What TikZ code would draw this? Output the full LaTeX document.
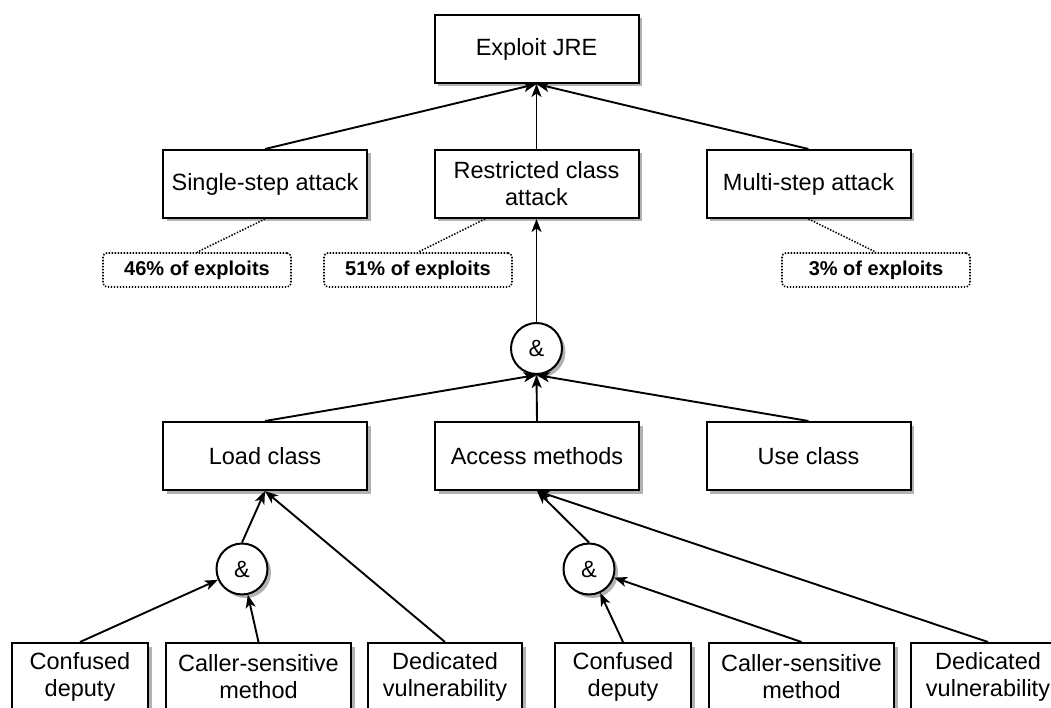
\documentclass[tikz,border=0pt]{standalone}
\usepackage{fontspec}
\setmainfont{Liberation Sans}
\usetikzlibrary{arrows.meta,shadows}
\begin{document}
\begin{tikzpicture}[x=1pt,y=-1pt,
  every node/.style={font=\fontsize{23.5}{27}\selectfont},
  shade box/.style={drop shadow={shadow xshift=3.5pt,shadow yshift=-3.5pt,fill=black!30,opacity=1}},
  box/.style={draw,line width=2pt,fill=white,minimum width=#1,minimum height=68pt,
    align=center,inner sep=0pt,shade box},
  box/.default=204pt,
  gate/.style={circle,draw,line width=2pt,fill=white,minimum size=51pt,inner sep=0pt,shade box},
  note/.style={draw,line width=1.6pt,dash pattern=on 1.4pt off 1.6pt,rounded corners=4pt,
    minimum width=188pt,minimum height=34pt,inner sep=0pt,
    font=\bfseries\fontsize{20}{24}\selectfont},
  link/.style={line width=1.9pt,-{Stealth[length=13pt,width=10pt,inset=3.5pt]}},
  hint/.style={line width=1.6pt,dash pattern=on 1.4pt off 1.6pt}
]
\useasboundingbox (0,0) rectangle (1051,708);
\clip (0,0) rectangle (1051,708);
\fill[white] (0,0) rectangle (1051,708);

% goal and attack strategies
\node[box] (jre) at (536.5,49) {Exploit JRE};
\node[box] (single) at (265,184) {Single-step attack};
\node[box] (rca) at (536.5,184) {Restricted class\\attack};
\node[box] (msa) at (808.5,184) {Multi-step attack};

% share of exploits per strategy
\node[note] (n46) at (197,270) {46\% of exploits};
\node[note] (n51) at (418,270) {51\% of exploits};
\node[note] (n3) at (876,270) {3\% of exploits};

% restricted class attack steps
\node[gate] (and1) at (536.5,348.5) {\&};
\node[box] (load) at (265,456) {Load class};
\node[box] (access) at (537,456) {Access methods};
\node[box] (use) at (808.5,456) {Use class};

% ways to reach each step
\node[gate] (and2) at (242,569) {\&};
\node[gate] (and3) at (589,569) {\&};
\node[box=136pt] (cd1) at (80,677) {Confused\\deputy};
\node[box=185pt] (cs1) at (258.5,677) {Caller-sensitive\\method};
\node[box=154pt] (dv1) at (445,677) {Dedicated\\vulnerability};
\node[box=136pt] (cd2) at (623,677) {Confused\\deputy};
\node[box=185pt] (cs2) at (801.5,677) {Caller-sensitive\\method};
\node[box=154pt] (dv2) at (988,677) {Dedicated\\vulnerability};

% connectors
\draw[link] (single.north) -- (jre.south);
\draw[link] (rca.north) -- (jre.south);
\draw[link] (msa.north) -- (jre.south);

\coordinate (rcafoot) at ([xshift=-51.5pt]rca.south);
\draw[hint] (single.south) -- (n46.north);
\draw[hint] (rcafoot) -- (n51.north);
\draw[hint] (msa.south) -- (n3.north);

\draw[link] (and1.north) -- (rca.south);
\draw[link] (load.north) -- (and1.south);
\draw[link] (access.north) -- (and1.south);
\draw[link] (use.north) -- (and1.south);

\draw[link] (and2.north) -- (load.south);
\draw[link] (dv1.north) -- (load.south);
\draw[link] (cd1.north) -- (and2);
\draw[link] (cs1.north) -- (and2);

\draw[link] (and3.north) -- (access.south);
\draw[link] (dv2.north) -- (access.south);
\draw[link] (cd2.north) -- (and3);
\draw[link] (cs2.north) -- (and3);
\end{tikzpicture}
\end{document}
